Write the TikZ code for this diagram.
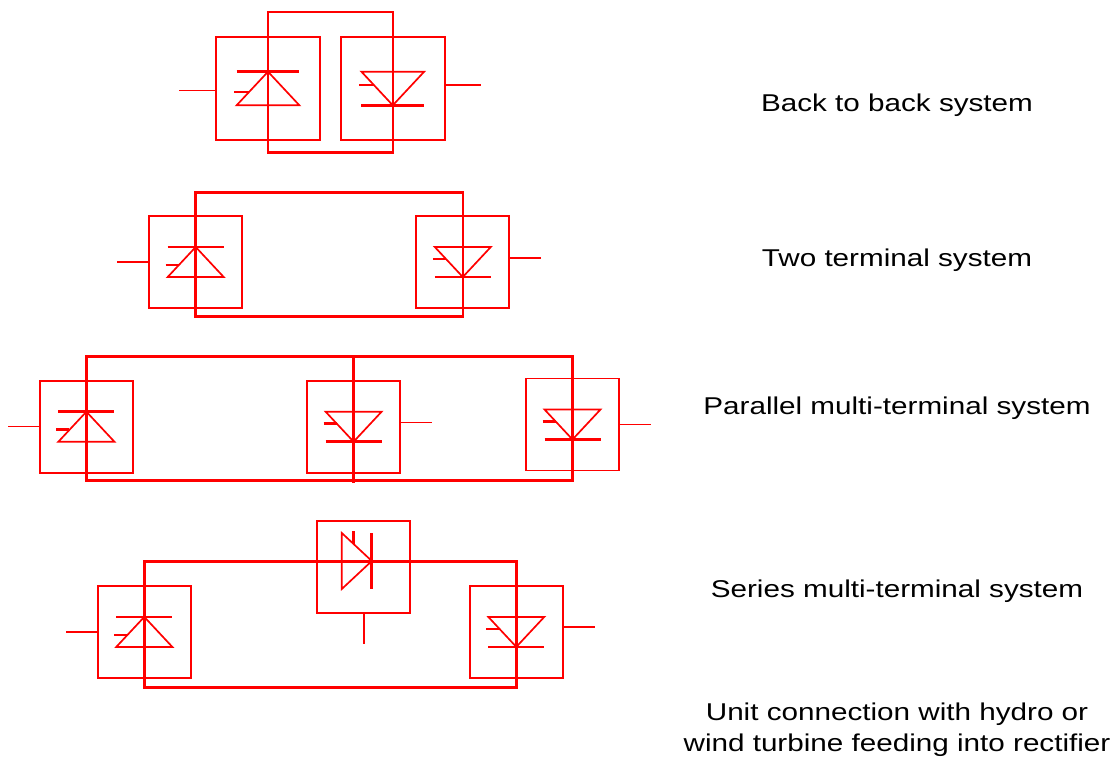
\documentclass[tikz,border=0pt]{standalone}
\usepackage{fontspec}
\newfontfamily\lblfont[FakeStretch=1.22]{Liberation Sans}
\usetikzlibrary{calc}
\tikzset{
  conv/.style={draw=red, line width=1.7pt, minimum width=93pt, minimum height=92pt, inner sep=0pt},
  bigconv/.style={conv, minimum width=104pt, minimum height=103pt},
  link/.style={draw=red, line width=2.6pt},
  lead/.style={draw=red, line width=1.6pt},
  lbl/.style={anchor=base, font=\lblfont\fontsize{24.3}{29}\selectfont, inner sep=0pt}
}
% thyristor symbol centred on a node: \thyr(node)[scope options]
\def\thyr(#1)[#2]{
  \begin{scope}[shift={(#1)},#2]
    \draw[red, line width=1.7pt, line join=miter] (-28,15) -- (0,-15) -- (28,15) -- cycle;
    \draw[red, line width=2.7pt] (-28,-15) -- (28,-15);
    \draw[red, line width=2.7pt] (-30,3) -- (-17,3);
  \end{scope}
}

\begin{document}
\begin{tikzpicture}[x=1pt, y=-1pt]
  \useasboundingbox (0,0) rectangle (1120,759);

  %%%%% BACK TO BACK %%%%%
  \node[bigconv] (bb1) at (268,88.5) {};
  \node[bigconv] (bb2) at (392.8,88.5) {};
  \draw[link] (bb1.center |- 0,12) rectangle (bb2.center |- 0,152.7);
  \thyr(bb1.center)[scale=1.12]
  \thyr(bb2.center)[scale=1.12, yscale=-1]
  \draw[lead] ([yshift=-2pt]bb1.west) -- ++(-36,0);
  \draw[lead] ([yshift=3.5pt]bb2.east) -- ++(35,0);
  \node[lbl] (lbb) at (897,111.7) {Back to back system};

  %%%%% TWO TERMINAL %%%%%
  \node[conv] (tt1) at (195.7,262) {};
  \node[conv] (tt2) at (462.8,262) {};
  \draw[link] (tt1.center |- 0,192.7) rectangle (tt2.center |- 0,316.7);
  \thyr(tt1.center)[]
  \thyr(tt2.center)[yscale=-1]
  \draw[lead] (tt1.west) -- ++(-31,0);
  \draw[lead] ([yshift=4pt]tt2.east) -- ++(31,0);
  \node[lbl] (ltt) at (897,266.7) {Two terminal system};

  %%%%% PARALLEL MULTI-TERMINAL %%%%%
  \node[conv] (pm1) at (86.4,426.7) {};
  \node[conv] (pm2) at (353.6,426.7) {};
  \node[conv] (pm3) at (572.5,424.5) {};
  \draw[link] (pm1.center |- 0,356.7) rectangle (pm3.center |- 0,480.7);
  \draw[link] (pm2.center |- 0,356.7) -- (pm2.center |- 0,483.3);
  \thyr(pm1.center)[]
  \thyr(pm2.center)[yscale=-1]
  \thyr(pm3.center)[yscale=-1]
  \draw[lead] (pm1.west) -- ++(-31,0);
  \draw[lead] ([yshift=4pt]pm2.east) -- ++(31,0);
  \draw[lead] (pm3.east) -- ++(31,0);
  \node[lbl] (lpm) at (897,415) {Parallel multi-terminal system};

  %%%%% SERIES MULTI-TERMINAL %%%%%
  \node[conv] (sm1) at (144.3,631.9) {};
  \node[conv] (sm2) at (363.8,566.8) {};
  \node[conv] (sm3) at (516.3,631.9) {};
  \coordinate (smin) at (301.7,561);
  \draw[link] (sm1.center |- 0,561.5) rectangle (sm3.center |- 0,687.7);
  \draw[link] (smin) -- (sm3.center |- smin);
  \thyr(356.8,561)[rotate=-90]
  \thyr(sm1.center)[]
  \thyr(sm3.center)[yscale=-1]
  \draw[lead] (sm1.west) -- ++(-31,0);
  \draw[lead] ([yshift=5pt]sm3.east) -- ++(31,0);
  \draw[lead] (sm2.south) -- ++(0,30);
  \node[lbl] (lsm) at (897,597.7) {Series multi-terminal system};

  %%%%% UNIT CONNECTION %%%%%
  \node[lbl] (luc1) at (897,720) {Unit connection with hydro or};
  \node[lbl] (luc2) at (897,751.7) {wind turbine feeding into rectifier};
\end{tikzpicture}
\end{document}
